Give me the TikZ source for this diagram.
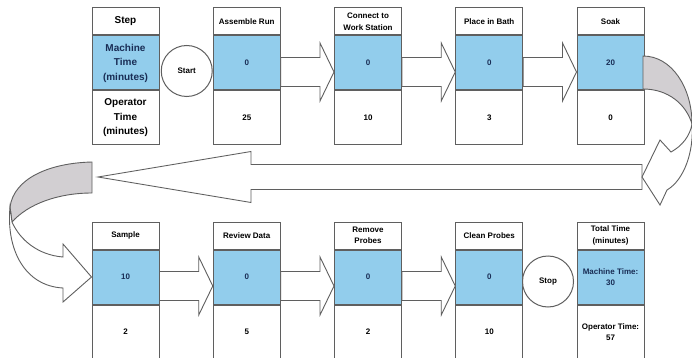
\documentclass[tikz,border=0pt]{standalone}
\usepackage{fontspec}
\setmainfont{Liberation Sans}
\usetikzlibrary{positioning, calc}

\definecolor{cellblue}{RGB}{146,205,236}
\definecolor{cellline}{RGB}{95,95,95}
\definecolor{backgrey}{RGB}{210,207,210}
\definecolor{numblue}{RGB}{25,45,85}

\tikzset{
	cell/.style={draw=cellline, line width=1pt, fill=white, minimum width=67pt, inner sep=1pt, align=center, font=\bfseries\fontsize{8pt}{11.5pt}\selectfont},
	headcell/.style={cell, minimum height=27pt},
	machcell/.style={cell, fill=cellblue, text=numblue, minimum height=54pt},
	opcell/.style={cell, minimum height=54pt},
	bigtext/.style={font=\bfseries\fontsize{10pt}{14.5pt}\selectfont},
	endcircle/.style={draw=cellline, line width=1pt, circle, fill=white, minimum size=51pt, inner sep=0pt, font=\bfseries\fontsize{8pt}{10pt}\selectfont},
	blockarrow/.style={draw=cellline, line width=0.9pt, fill=white, line join=miter},
	backside/.style={draw=cellline, line width=0.9pt, fill=backgrey},
}

% fat arrow from one machine cell to the next
\newcommand{\blockarrow}[2]{%
	\draw[blockarrow] let \p1=(#1.east), \p2=(#2.west) in
		(\x1,\y1+5.5pt) -- (\x2-14pt,\y1+5.5pt) -- (\x2-14pt,\y1+20pt) -- (\x2,\y1-9pt)
		-- (\x2-14pt,\y1-38pt) -- (\x2-14pt,\y1-23.5pt) -- (\x1,\y1-23.5pt) -- cycle;}

\begin{document}
\begin{tikzpicture}[x=1pt, y=-1pt]
	\fill[white] (0,0) rectangle (692,358);
	\useasboundingbox (0,0) rectangle (692,358);

	% top row
	\node (stephead) at (125.5,21.5) [headcell, bigtext] {Step};
	\node (stepmach) [machcell, bigtext, node distance=0pt, below=of stephead] {Machine\\Time\\(minutes)};
	\node (stepop) [opcell, bigtext, node distance=0pt, below=of stepmach] {Operator\\Time\\(minutes)};

	\node (asmhead) at (246.75,21.5) [headcell] {Assemble Run};
	\node (asmmach) [machcell, node distance=0pt, below=of asmhead] {0};
	\node (asmop) [opcell, node distance=0pt, below=of asmmach] {25};

	\node (connhead) at (368,21.5) [headcell] {Connect to\\Work Station};
	\node (connmach) [machcell, node distance=0pt, below=of connhead] {0};
	\node (connop) [opcell, node distance=0pt, below=of connmach] {10};

	\node (bathhead) at (489.25,21.5) [headcell] {Place in Bath};
	\node (bathmach) [machcell, node distance=0pt, below=of bathhead] {0};
	\node (bathop) [opcell, node distance=0pt, below=of bathmach] {3};

	\node (soakhead) at (610.5,21.5) [headcell] {Soak};
	\node (soakmach) [machcell, node distance=0pt, below=of soakhead] {20};
	\node (soakop) [opcell, node distance=0pt, below=of soakmach] {0};

	% bottom row
	\node (samplehead) at (125.5,235.5) [headcell] {Sample};
	\node (samplemach) [machcell, node distance=0pt, below=of samplehead] {10};
	\node (sampleop) [opcell, node distance=0pt, below=of samplemach] {2};

	\node (reviewhead) at (246.75,235.5) [headcell] {Review Data};
	\node (reviewmach) [machcell, node distance=0pt, below=of reviewhead] {0};
	\node (reviewop) [opcell, node distance=0pt, below=of reviewmach] {5};

	\node (removehead) at (368,235.5) [headcell] {Remove\\Probes};
	\node (removemach) [machcell, node distance=0pt, below=of removehead] {0};
	\node (removeop) [opcell, node distance=0pt, below=of removemach] {2};

	\node (cleanhead) at (489.25,235.5) [headcell] {Clean Probes};
	\node (cleanmach) [machcell, node distance=0pt, below=of cleanhead] {0};
	\node (cleanop) [opcell, node distance=0pt, below=of cleanmach] {10};

	\node (totalhead) at (610.5,235.5) [headcell] {Total Time\\(minutes)};
	\node (totalmach) [machcell, node distance=0pt, below=of totalhead] {Machine Time:\\30};
	\node (totalop) [opcell, node distance=0pt, below=of totalmach] {Operator Time:\\57};

	\node (start) at (186.75,71) [endcircle] {Start};
	\node (stop) at (548,281.5) [endcircle] {Stop};

	\blockarrow{asmmach}{connmach}
	\blockarrow{connmach}{bathmach}
	\blockarrow{bathmach}{soakmach}
	\blockarrow{samplemach}{reviewmach}
	\blockarrow{reviewmach}{removemach}
	\blockarrow{removemach}{cleanmach}

	% long arrow back to the left
	\coordinate (backend) at (642,177);
	\coordinate (backtip) at (98,177);
	\draw[blockarrow] ($(backend)+(0,-12.5)$) -- ($(backtip)+(153,-12.5)$) -- ($(backtip)+(153,-25.5)$) -- (backtip)
		-- ($(backtip)+(153,25.5)$) -- ($(backtip)+(153,12.5)$) -- ($(backend)+(0,12.5)$) -- cycle;

	% turn on the right
	\draw[backside] (643,56) .. controls (672,56) and (692,88) .. (692,124)
		.. controls (686,104) and (668,89) .. (643,89) -- cycle;
	\draw[blockarrow] (692,124) .. controls (694,152) and (684,180) .. (667,190) -- (660,205) -- (backend)
		-- (660,140) -- (671,152) .. controls (682,146) and (690,136) .. (692,124) -- cycle;

	% turn on the left
	\draw[backside] (92,162) .. controls (50,163) and (14,178) .. (10,207) -- (12,222)
		.. controls (28,204) and (58,193) .. (92,193) -- cycle;
	\draw[blockarrow] (10,207) .. controls (6,250) and (25,286) .. (63,288) -- (63,302) -- (samplemach.west)
		-- (63,244) -- (63,257) .. controls (38,255) and (20,240) .. (12,222) -- cycle;
\end{tikzpicture}
\end{document}
